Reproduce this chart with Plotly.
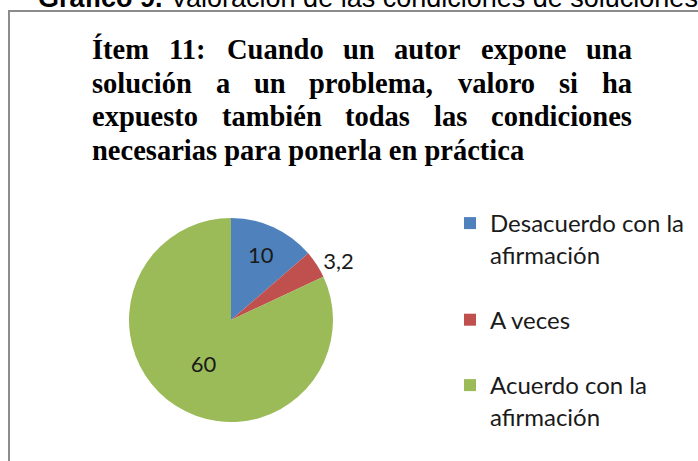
import plotly.graph_objects as go

W, H = 698, 461

# data
labels = ['Desacuerdo con la<br>afirmación', 'A veces', 'Acuerdo con la<br>afirmación']
values = [10, 3.2, 60]
colors = ['#4F81BD', '#C0504D', '#9BBB59']
text_pos = ['inside', 'outside', 'inside']

caption = '<b>Gráfico 9.</b> Valoración de las condiciones de soluciones'
title_lines = [
    'Ítem 11: Cuando un autor expone una',
    'solución a un problema, valoro si ha',
    'expuesto también todas las condiciones',
    'necesarias para ponerla en práctica',
]

# rough Times/Liberation Serif Bold advance widths (per 1000 em), used to justify
TB = dict(zip('abcdefghijklmnopqrstuvwxyz', [500, 556, 444, 556, 444, 333, 500, 556, 278, 333, 556, 278, 833,
                                               556, 500, 556, 556, 444, 389, 333, 556, 500, 722, 500, 500, 444]))
TB.update({'C': 722, 'Í': 389, '1': 500, ':': 333, ',': 250, 'á': 500, 'é': 444, 'ó': 500, ' ': 250})

T_SIZE = 28.5
T_LEFT, T_RIGHT = 90, 630
line_y = [49, 83, 117, 151]


def px(x):
    return x / W


def py(y):
    return 1 - y / H


def word_w(w):
    return sum(TB.get(c, 500) for c in w) * T_SIZE / 1000


fig = go.Figure(go.Pie(
    labels=labels,
    values=values,
    text=[f'{v:g}'.replace('.', ',') for v in values],
    textinfo='text',
    textposition=text_pos,
    marker=dict(colors=colors, line=dict(width=0)),
    sort=False,
    direction='clockwise',
    rotation=0,
    textfont=dict(family='Lato', size=22, color='#1a1a1a'),
    insidetextorientation='horizontal',
    domain=dict(x=[px(129), px(333)], y=[py(422), py(218)]),
    hoverinfo='label+value',
))
# extra blank line after the first two legend entries, like the spacing in the original
fig.data[0].labels = [labels[0] + '<br> ', labels[1] + '<br> ', labels[2]]

annotations = [dict(
    text=caption, x=px(36), y=py(15), xref='paper', yref='paper',
    xanchor='left', yanchor='bottom', showarrow=False,
    font=dict(family='Liberation Sans', size=27, color='black'),
)]
for i, (line, y) in enumerate(zip(title_lines, line_y)):
    words = line.split(' ')
    if i == len(title_lines) - 1:
        annotations.append(dict(
            text='<b>' + line + '</b>', x=px(T_LEFT), y=py(y), xref='paper', yref='paper',
            xanchor='left', yanchor='middle', showarrow=False,
            font=dict(family='Liberation Serif', size=T_SIZE, color='black'),
        ))
        continue
    widths = [word_w(w) for w in words]
    gap = (T_RIGHT - T_LEFT - sum(widths)) / (len(words) - 1)
    x = T_LEFT
    for w, ww in zip(words, widths):
        annotations.append(dict(
            text='<b>' + w + '</b>', x=px(x), y=py(y), xref='paper', yref='paper',
            xanchor='left', yanchor='middle', showarrow=False,
            font=dict(family='Liberation Serif', size=T_SIZE, color='black'),
        ))
        x += ww + gap

fig.update_layout(
    width=W, height=H,
    margin=dict(l=0, r=0, t=0, b=0),
    paper_bgcolor='white',
    plot_bgcolor='white',
    showlegend=True,
    legend=dict(
        x=px(450), y=py(201), xanchor='left', yanchor='top',
        font=dict(family='Lato', size=24, color='#1a1a1a'),
        bgcolor='rgba(0,0,0,0)',
        valign='top',
    ),
    annotations=annotations,
    shapes=[dict(
        type='rect', xref='paper', yref='paper',
        x0=px(9), x1=1.1, y0=-0.1, y1=py(11),
        line=dict(color='#8c8c8c', width=2),
    )],
)

fig.write_html('out.html', config={'displayModeBar': False},
               post_script="document.body.style.margin='0';")
